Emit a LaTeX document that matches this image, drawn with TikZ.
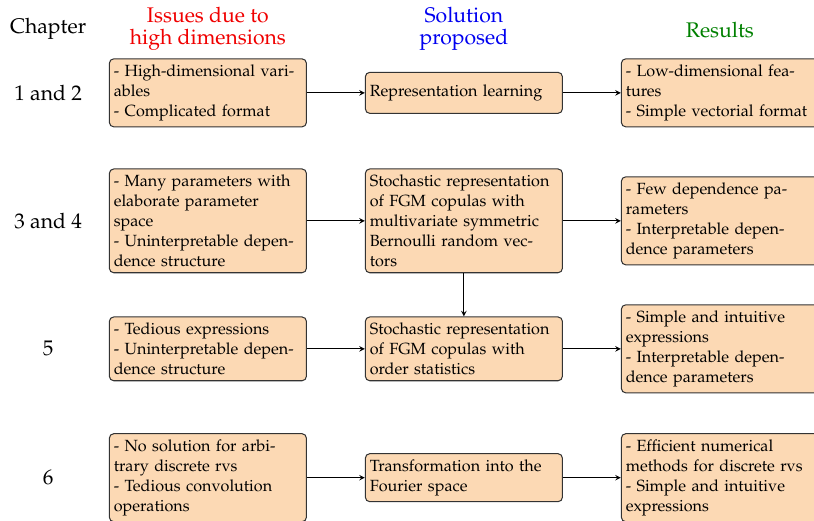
\documentclass[tikz,border=0pt]{standalone}
\usepackage[T1]{fontenc}
\usepackage{mathpazo}
\usepackage{tikz}
\usepackage{xcolor}
\usetikzlibrary{arrows,positioning}
\definecolor{issuecolor}{RGB}{240,0,0}
\definecolor{solutioncolor}{RGB}{0,0,240}
\definecolor{resultcolor}{RGB}{0,128,0}
\definecolor{boxcolor}{RGB}{252,217,180}

\begin{document}
\begin{tikzpicture}[
    box/.style={rectangle, draw=black!80, fill=boxcolor, rounded corners=3pt, text width=4.5cm, align=left, inner xsep=3pt, inner ysep=4pt, font=\fontsize{11}{13.6}\selectfont, line width=0.7pt},
    head/.style={align=center, font=\fontsize{14.4}{14.6}\selectfont},
    arrow/.style={->, >=stealth, line width=0.7pt}
]
\useasboundingbox (0,0) rectangle (19.46,12.45);

% Headers
\node[head] (chap) at (1.15, 11.76) {Chapter};
\node[head, text=issuecolor] (hissue) at (4.97, 11.76) {Issues due to\\high dimensions};
\node[head, text=solutioncolor] (hsol) at (11.09, 11.76) {Solution\\proposed};
\node[head, text=resultcolor] (hres) at (17.21, 11.72) {Results};

% Chapters 1 and 2
\node[head] (ch12) at (1.15, 10.23) {1 and 2};
\node[box] (issue1) at (4.97, 10.23) {- High-dimensional vari-\\ables\\- Complicated format};
\node[box, minimum height=0.98cm] (sol1) at (11.09, 10.23) {Representation learning};
\node[box] (res1) at (17.21, 10.23) {- Low-dimensional fea-\\tures\\- Simple vectorial format};

% Chapters 3 and 4
\node[head] (ch34) at (1.15, 7.17) {3 and 4};
\node[box] (issue2) at (4.97, 7.17) {- Many parameters with\\elaborate parameter\\space\\- Uninterpretable depen-\\dence structure};
\node[box] (sol2) at (11.09, 7.17) {Stochastic representation\\of FGM copulas with\\multivariate symmetric\\Bernoulli random vec-\\tors};
\node[box] (res2) at (17.21, 7.17) {- Few dependence pa-\\rameters\\- Interpretable depen-\\dence parameters};

% Chapter 5
\node[head] (ch5) at (1.15, 4.11) {5};
\node[box] (issue3) at (4.97, 4.11) {- Tedious expressions\\- Uninterpretable depen-\\dence structure};
\node[box] (sol3) at (11.09, 4.11) {Stochastic representation\\of FGM copulas with\\order statistics};
\node[box] (res3) at (17.21, 4.11) {- Simple and intuitive\\expressions\\- Interpretable depen-\\dence parameters};

% Chapter 6
\node[head] (ch6) at (1.15, 1.03) {6};
\node[box] (issue4) at (4.97, 1.03) {- No solution for arbi-\\trary discrete rvs\\- Tedious convolution\\operations};
\node[box] (sol4) at (11.09, 1.03) {Transformation into the\\Fourier space};
\node[box] (res4) at (17.21, 1.03) {- Efficient numerical\\methods for discrete rvs\\- Simple and intuitive\\expressions};

% Arrows
\draw[arrow] (issue1) -- (sol1);
\draw[arrow] (sol1) -- (res1);
\draw[arrow] (issue2) -- (sol2);
\draw[arrow] (sol2) -- (res2);
\draw[arrow] (sol2) -- (sol3);
\draw[arrow] (issue3) -- (sol3);
\draw[arrow] (sol3) -- (res3);
\draw[arrow] (issue4) -- (sol4);
\draw[arrow] (sol4) -- (res4);

\end{tikzpicture}
\end{document}
